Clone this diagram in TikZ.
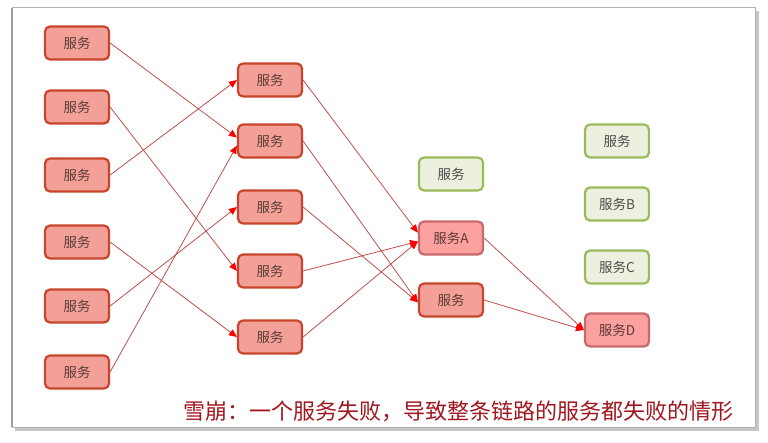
\documentclass[tikz,border=0pt]{standalone}
\usepackage{fontspec}
\newfontfamily\cjk{Noto Sans CJK SC}
\usetikzlibrary{arrows.meta}
\definecolor{svcfill}{HTML}{F3A198}
\definecolor{svcline}{HTML}{C9442C}
\definecolor{badfill}{HTML}{FDA0A0}
\definecolor{badline}{HTML}{C86A6C}
\definecolor{okfill}{HTML}{EBF1DE}
\definecolor{okline}{HTML}{9BBB59}
\definecolor{linkred}{HTML}{C0504D}
\definecolor{svctext}{HTML}{5A3B35}
\definecolor{captred}{HTML}{A0161F}

\begin{document}
\begin{tikzpicture}[x=1pt,y=-1pt,>={Triangle[length=8pt,width=7pt,color=red]},
  svc/.style={draw=svcline,fill=svcfill,line width=2.2pt,rounded corners=5pt,
    minimum width=64pt,minimum height=33pt,inner sep=0pt,
    font=\cjk\fontsize{13.5}{15}\selectfont,text=svctext},
  bad/.style={svc,draw=badline,fill=badfill},
  ok/.style={svc,draw=okline,fill=okfill,text=black!70},
  link/.style={->,draw=linkred,line width=.8pt}]
\useasboundingbox (0,0) rectangle (768,443);
% slide frame
\fill[gray!45] (15,11) rectangle (759,431);
\draw[gray!60,fill=white,line width=1pt] (12,8) rectangle (755,427);
\draw[gray!75,line width=1.5pt] (12,8) -- (12,427);
% first column
\node[svc] (l1) at (77,43) {服务};
\node[svc] (l2) at (77,107) {服务};
\node[svc] (l3) at (77,175) {服务};
\node[svc] (l4) at (77,242) {服务};
\node[svc] (l5) at (77,306) {服务};
\node[svc] (l6) at (77,372) {服务};
% second column
\node[svc] (m1) at (270,80) {服务};
\node[svc] (m2) at (270,141) {服务};
\node[svc] (m3) at (270,207) {服务};
\node[svc] (m4) at (270,271) {服务};
\node[svc] (m5) at (270,337) {服务};
% third column
\node[ok] (n1) at (451,174) {服务};
\node[bad] (na) at (451,238) {服务A};
\node[svc] (n2) at (451,300) {服务};
% fourth column
\node[ok] (r1) at (617,141) {服务};
\node[ok] (rb) at (617,204) {服务B};
\node[ok] (rc) at (617,267) {服务C};
\node[bad] (rd) at (617,330) {服务D};
% calls
\draw[link] (l1.east) -- (m2.174);
\draw[link] (l2.east) -- (m4.west);
\draw[link] (l3.east) -- (m1.west);
\draw[link] (l4.east) -- (m5.west);
\draw[link] (l5.east) -- (m3.west);
\draw[link] (l6.east) -- (m2.188);
\draw[link] (m1.east) -- (na.171);
\draw[link] (m2.east) -- (n2.184);
\draw[link] (m3.east) -- (n2.184);
\draw[link] (m4.east) -- (na.186);
\draw[link] (m5.east) -- (na.186);
\draw[link] (na.east) -- (rd.west);
\draw[link] (n2.east) -- (rd.west);
\node[font=\cjk\fontsize{22}{24}\selectfont,text=captred] (cap) at (458,411) {雪崩：一个服务失败，导致整条链路的服务都失败的情形};
\end{tikzpicture}
\end{document}
